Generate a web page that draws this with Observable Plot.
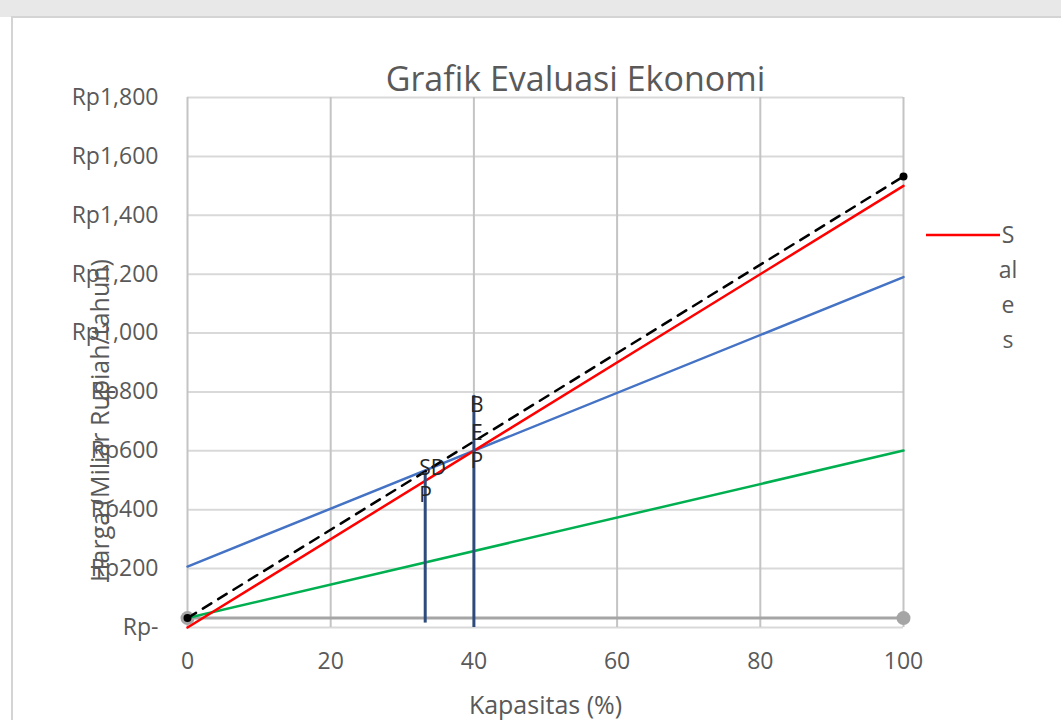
<!DOCTYPE html>
<html>
<head>
<meta charset="utf-8">
<script src="https://cdn.jsdelivr.net/npm/d3@7"></script>
<script src="https://cdn.jsdelivr.net/npm/@observablehq/plot@0.6"></script>
<style>
  html, body { margin: 0; padding: 0; background: #ffffff; }
  #chart { position: absolute; left: 0; top: 0; width: 1061px; height: 720px; }
</style>
</head>
<body>
<div id="chart"></div>
<script>
// ---- data ----
const kapasitas = [0, 100];                 // Kapasitas (%)
const salesValues = [0, 1500];              // Sales (red)
const totalCostValues = [207, 1190];        // blue line
const variableCostValues = [32, 601];       // green line
const semiCostValues = [32, 1532];          // black dashed line
const fixedCostValues = [32, 32];           // gray line
const sdpX = 33.2;
const sdpRange = [15, 526];
const bepX = 40;
const bepRange = [0, 788];
const xTicks = [0, 20, 40, 60, 80, 100];
const yTicks = [0, 200, 400, 600, 800, 1000, 1200, 1400, 1600, 1800];
const legendLabel = ["S", "al", "e", "s"];
const titleText = "Grafik Evaluasi Ekonomi";
const xLabel = "Kapasitas (%)";
const yLabel = "Harga (Miliar Rupiah/tahun)";

const toRows = (vals) => kapasitas.map((k, i) => ({x: k, y: vals[i]}));
const fmtY = (d) => d === 0 ? "Rp-" : "Rp" + d3.format(",")(d);
const FONT = "Open Sans";

const plot = Plot.plot({
  width: 1061,
  height: 720,
  marginLeft: 187,
  marginRight: 158,
  marginTop: 97,
  marginBottom: 93,
  style: {fontFamily: FONT, color: "#595959", background: "transparent", overflow: "visible"},
  x: {domain: [0, 100]},
  y: {domain: [0, 1800]},
  marks: [
    Plot.ruleY(yTicks, {stroke: "#d9d9d9", strokeWidth: 2}),
    Plot.ruleX(xTicks, {stroke: "#c4c4c4", strokeWidth: 2}),
    Plot.axisX({ticks: xTicks, tickSize: 0, tickPadding: 25, fontSize: 23, label: null}),
    Plot.axisY({ticks: yTicks, tickSize: 0, tickPadding: 29, fontSize: 23, label: null, tickFormat: fmtY}),
    Plot.line(toRows(fixedCostValues), {x: "x", y: "y", stroke: "#a5a5a5", strokeWidth: 3}),
    Plot.dot(toRows(fixedCostValues), {x: "x", y: "y", r: 7, fill: "#a5a5a5"}),
    Plot.line(toRows(variableCostValues), {x: "x", y: "y", stroke: "#00b050", strokeWidth: 2.5}),
    Plot.line(toRows(totalCostValues), {x: "x", y: "y", stroke: "#4472c4", strokeWidth: 2.5}),
    Plot.line(toRows(salesValues), {x: "x", y: "y", stroke: "#ff0000", strokeWidth: 2.5}),
    Plot.line(toRows(semiCostValues), {x: "x", y: "y", stroke: "#000000", strokeWidth: 2.5, strokeDasharray: "10,8"}),
    Plot.dot(toRows(semiCostValues), {x: "x", y: "y", r: 4, fill: "#000000"}),
    Plot.ruleX([{x: sdpX, y1: sdpRange[0], y2: sdpRange[1]}], {x: "x", y1: "y1", y2: "y2", stroke: "#2f4b7c", strokeWidth: 3}),
    Plot.ruleX([{x: bepX, y1: bepRange[0], y2: bepRange[1]}], {x: "x", y1: "y1", y2: "y2", stroke: "#2f4b7c", strokeWidth: 3}),
    Plot.text([{x: sdpX, y: sdpRange[1], t: "SD\nP"}], {x: "x", y: "y", text: "t", textAnchor: "start", lineAnchor: "top", dx: -6, dy: -17, fontSize: 21, lineHeight: 1.3, fill: "#262626"}),
    Plot.text([{x: bepX, y: bepRange[1], t: "B\nE\nP"}], {x: "x", y: "y", text: "t", textAnchor: "middle", lineAnchor: "top", dx: 3, dy: -3, fontSize: 21, lineHeight: 1.32, fill: "#262626"}),
    Plot.text([titleText], {frameAnchor: "top", dx: 30, dy: -17, text: d => d, fontSize: 34, fill: "#595959", lineAnchor: "middle"}),
    Plot.text([xLabel], {frameAnchor: "bottom", dy: 78, text: d => d, fontSize: 25, fill: "#595959", lineAnchor: "middle"}),
    Plot.text([yLabel], {frameAnchor: "left", dx: -87, dy: 58, text: d => d, fontSize: 25, fill: "#595959", rotate: -90, textAnchor: "middle", lineAnchor: "middle"})
  ]
});

document.getElementById("chart").appendChild(plot);

// chart frame decorations
const svg = d3.select(plot);
svg.insert("rect", ":first-child").attr("x", 12).attr("y", 17).attr("width", 1100).attr("height", 720)
  .attr("fill", "#ffffff").attr("stroke", "#d4d4d4").attr("stroke-width", 2);
svg.insert("rect", ":first-child").attr("x", 0).attr("y", 0).attr("width", 1061).attr("height", 17).attr("fill", "#e8e8e8");

// legend
const lg = svg.append("g").attr("font-family", FONT).attr("font-size", 23).attr("fill", "#595959");
lg.append("line").attr("x1", 926).attr("x2", 1000).attr("y1", 235).attr("y2", 235).attr("stroke", "#ff0000").attr("stroke-width", 2.5);
legendLabel.forEach((s, i) => {
  lg.append("text").attr("x", 1008).attr("y", 235 + i * 35).attr("dy", "0.35em").text(s);
});
</script>
</body>
</html>
